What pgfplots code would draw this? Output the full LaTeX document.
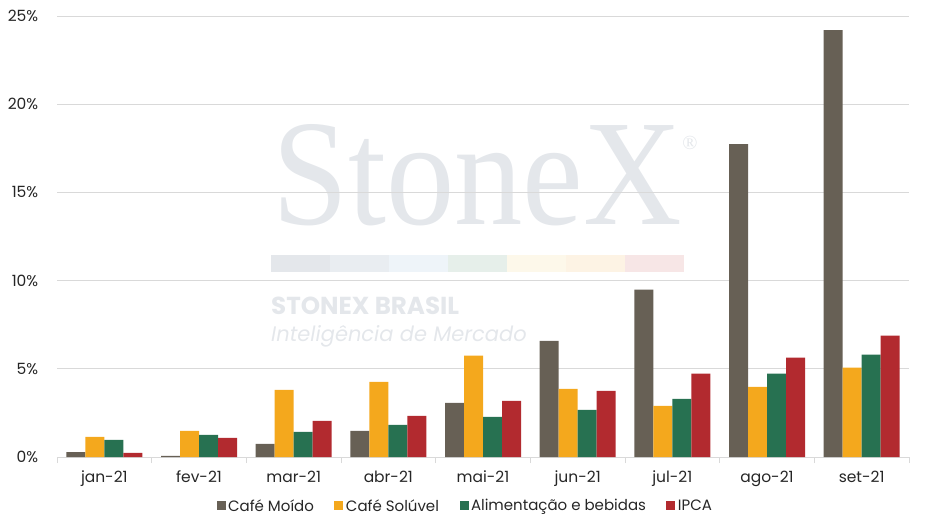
\documentclass[border=0pt]{standalone}
\usepackage{pgfplots}
\pgfplotsset{compat=1.18}
\usepackage{fontspec}
\setmainfont{Poppins}
\newfontfamily\wmserif{Liberation Serif}
\definecolor{cMoido}{HTML}{676055}
\definecolor{cSol}{HTML}{F4A81D}
\definecolor{cAlim}{HTML}{277151}
\definecolor{cIPCA}{HTML}{B22A2F}
\definecolor{gridc}{HTML}{D9D9D9}
\definecolor{txt}{HTML}{262626}
\definecolor{wm}{HTML}{E4E7EB}
\definecolor{s1}{HTML}{E4E7EB}
\definecolor{s2}{HTML}{E9EDF1}
\definecolor{s3}{HTML}{EEF4F9}
\definecolor{s4}{HTML}{E6EFEA}
\definecolor{s5}{HTML}{FDF8EA}
\definecolor{s6}{HTML}{FDF3E4}
\definecolor{s7}{HTML}{F7E6E6}
\begin{document}
\begin{tikzpicture}
\path[use as bounding box] (-57bp,-72bp) rectangle (868bp,457bp);
% watermark (pixel px,py -> (px-57, 457-py))
\node[anchor=base west, inner sep=0pt, text=wm] at (215bp,232bp) {\resizebox{410bp}{100bp}{\wmserif StoneX}};
\node[anchor=center, inner sep=0pt, text=wm] at (633bp,314bp) {\fontsize{20bp}{22bp}\selectfont\wmserif ®};
\fill[s1] (214bp,185bp) rectangle (273bp,202bp);
\fill[s2] (273bp,185bp) rectangle (332bp,202bp);
\fill[s3] (332bp,185bp) rectangle (391bp,202bp);
\fill[s4] (391bp,185bp) rectangle (450bp,202bp);
\fill[s5] (450bp,185bp) rectangle (509bp,202bp);
\fill[s6] (509bp,185bp) rectangle (568bp,202bp);
\fill[s7] (568bp,185bp) rectangle (627bp,202bp);
\node[anchor=base west, inner sep=0pt, text=wm] at (214bp,142bp) {\resizebox{188bp}{!}{\fontsize{23bp}{26bp}\selectfont\bfseries STONEX BRASIL}};
\node[anchor=base west, inner sep=0pt, text=wm] at (214bp,115bp) {\fontsize{21bp}{26bp}\selectfont\itshape Inteligência de Mercado};
\begin{axis}[
  at={(0,0)}, anchor=south west,
  scale only axis, width=852bp, height=441bp,
  ybar=0pt, bar width=19bp,
  xmin=-0.5, xmax=8.5, ymin=0, ymax=25,
  xtick={0,...,8},
  xticklabels={jan-21,fev-21,mar-21,abr-21,mai-21,jun-21,jul-21,ago-21,set-21},
  minor xtick={-0.5,0.5,...,8.5},
  major x tick style={draw=none},
  minor x tick style={draw=gridc, line width=0.8pt},
  minor tick length=6bp,
  tick align=outside,
  xtick pos=bottom,
  ytick={0,5,...,25},
  ytick style={draw=none},
  yticklabel={\pgfmathprintnumber{\tick}\%},
  /pgf/number format/assume math mode=true,
  ymajorgrids, grid style={draw=gridc, line width=0.8pt},
  axis x line*=bottom, axis y line*=left,
  x axis line style={draw=gridc, line width=0.8pt, -},
  y axis line style={draw=none},
  ticklabel style={font=\fontsize{15.5bp}{18bp}\selectfont, text=txt},
  xticklabel style={yshift=-6bp},
  yticklabel style={anchor=east, xshift=-11bp},
  legend style={at={(0.4795,-0.111)}, anchor=center, draw=none, fill=none,
    font=\fontsize{15bp}{18bp}\selectfont, text=txt,
    legend columns=4,
    nodes={inner xsep=2.5bp},
    /tikz/every even column/.append style={column sep=18bp}},
  legend image code/.code={\fill[#1] (0bp,-4.5bp) rectangle (9bp,4.5bp);},
  every axis plot/.append style={draw=none},
]
\addplot[fill=cMoido] coordinates {(0,0.28) (1,0.06) (2,0.74) (3,1.48) (4,3.07) (5,6.59) (6,9.49) (7,17.73) (8,24.2)};
\addplot[fill=cSol] coordinates {(0,1.14) (1,1.48) (2,3.81) (3,4.26) (4,5.74) (5,3.86) (6,2.90) (7,3.98) (8,5.06)};
\addplot[fill=cAlim] coordinates {(0,0.97) (1,1.25) (2,1.42) (3,1.82) (4,2.27) (5,2.67) (6,3.30) (7,4.72) (8,5.80)};
\addplot[fill=cIPCA] coordinates {(0,0.24) (1,1.08) (2,2.05) (3,2.33) (4,3.18) (5,3.75) (6,4.72) (7,5.63) (8,6.88)};
\legend{Café Moído, Café Solúvel, Alimentação e bebidas, IPCA}
\end{axis}
\end{tikzpicture}
\end{document}
